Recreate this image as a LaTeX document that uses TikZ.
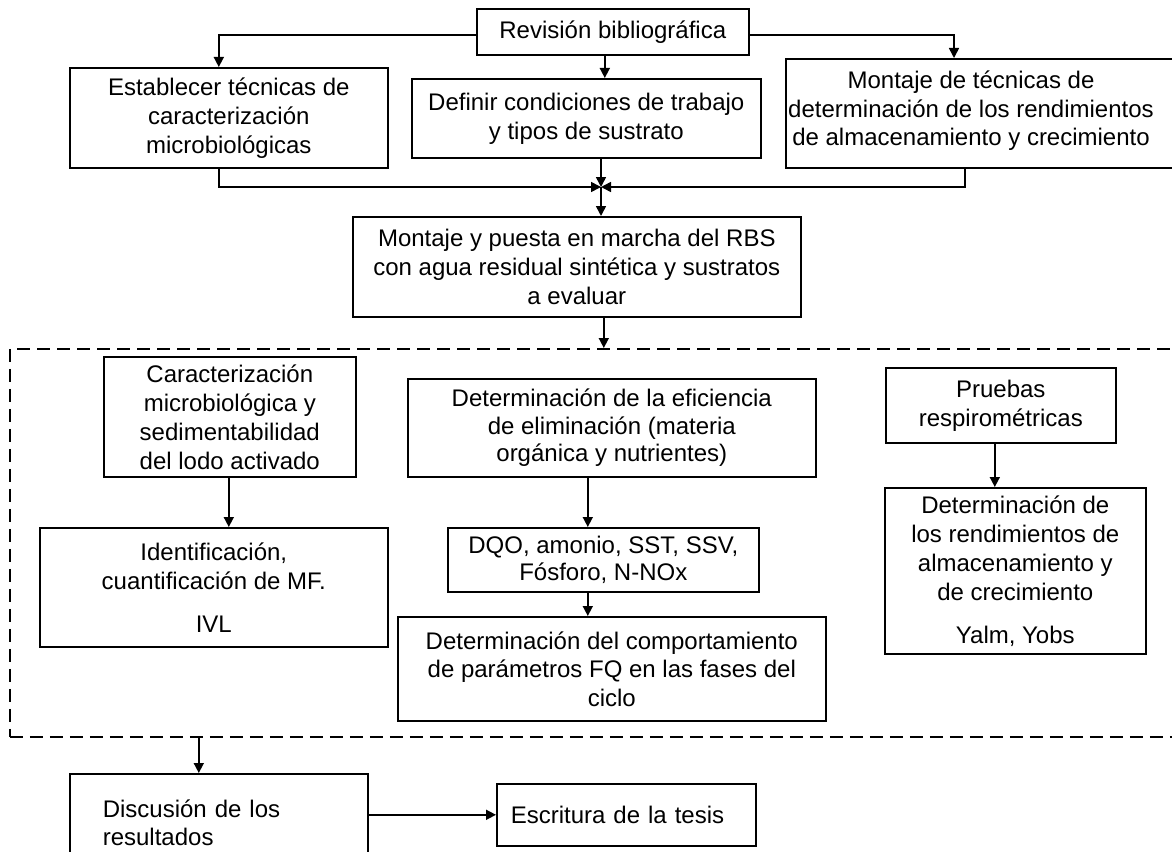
\documentclass[tikz,border=0pt]{standalone}
\usepackage{fontspec}
\setmainfont{Liberation Sans}
\usetikzlibrary{arrows.meta,calc}
\begin{document}
\begin{tikzpicture}[x=1pt,y=-1pt,
  box/.style={draw, line width=1.6pt, anchor=north west, inner sep=0pt,
    align=center, font=\fontsize{24}{29}\selectfont},
  txt/.style={inner sep=0pt, align=center, font=\fontsize{24}{28.5}\selectfont},
  arr/.style={line width=1.6pt, -{Triangle[length=10pt,width=10pt]}},
  ln/.style={line width=1.6pt},
  grpbox/.style={draw, line width=1.6pt, dash pattern=on 13pt off 7pt,
    anchor=north west, inner sep=0pt}]
\useasboundingbox (0,0) rectangle (1172,851);
\fill[white] (0,0) rectangle (1172,851);

% upper block
\node[box, minimum width=272pt, minimum height=46pt] (rev) at (476,8) {Revisión bibliográfica};
\node[box, minimum width=318pt, minimum height=100pt] (est) at (69,67)
  {Establecer técnicas de\\caracterización\\microbiológicas};
\node[box, minimum width=349pt, minimum height=79pt] (def) at (411,78)
  {Definir condiciones de trabajo\\y tipos de sustrato};
\node[box, minimum width=400pt, minimum height=109pt] (mon) at (785,58) {};
\node[txt] (monT) at (971,111)
  {Montaje de técnicas de\\determinación de los rendimientos\\de almacenamiento y crecimiento};

\coordinate (J) at (601,187);

\node[box, minimum width=448pt, minimum height=100pt] (rbs) at (352,216)
  {Montaje y puesta en marcha del RBS\\con agua residual sintética y sustratos\\a evaluar};

% experimental block
\node[grpbox, minimum width=1176pt, minimum height=388pt] (grp) at (9,348) {};

\node[box, minimum width=252pt, minimum height=120pt] (car) at (103,356)
  {Caracterización\\microbiológica y\\sedimentabilidad\\del lodo activado};
\node[box, minimum width=348pt, minimum height=119pt] (ide) at (39,527)
  {Identificación,\\cuantificación de MF.\\[14pt]IVL};
\node[box, minimum width=408pt, minimum height=98pt,
  font=\fontsize{24}{27.5}\selectfont] (efi) at (407,378)
  {Determinación de la eficiencia\\de eliminación (materia\\orgánica y nutrientes)};
\node[box, minimum width=311pt, minimum height=64pt,
  font=\fontsize{24}{27}\selectfont] (dqo) at (447,527)
  {DQO, amonio, SST, SSV,\\Fósforo, N-NOx};
\node[box, minimum width=428pt, minimum height=104pt,
  font=\fontsize{24}{28.5}\selectfont] (fq) at (397,616)
  {Determinación del comportamiento\\de parámetros FQ en las fases del\\ciclo};
\node[box, minimum width=230pt, minimum height=75pt] (pru) at (885,367)
  {Pruebas\\respirométricas};
\node[box, minimum width=261pt, minimum height=166pt] (ren) at (884,487)
  {Determinación de\\los rendimientos de\\almacenamiento y\\de crecimiento\\[14pt]Yalm, Yobs};

% closing block
\node[box, align=left, text width=232pt, inner xsep=33pt, minimum height=97pt,
  font=\fontsize{24}{28}\selectfont] (dis) at (69,773)
  {Discusión de los\\resultados};
\node[box, align=left, text width=231pt, inner xsep=14pt, minimum height=62pt] (esc) at (496,783)
  {Escritura de la tesis};

% connectors
\draw[arr] ([yshift=-3pt]rev.west) -| ([xshift=-10pt]est.north);
\draw[arr] ([xshift=-8pt]rev.south) -- ([xshift=-8pt]rev.south |- def.north);
\draw[arr] ([yshift=-3pt]rev.east) -| ($(mon.north west)+(169,0)$);

\draw[arr] ([xshift=-10pt]est.south) |- (J);
\draw[arr] ($(mon.south west)+(180,0)$) |- (J);
\draw[arr] (def.south -| J) -- (J);
\draw[arr] (J) -- (J |- rbs.north);

\draw[arr] ([xshift=27pt]rbs.south) -- ([xshift=27pt]rbs.south |- grp.north);

\draw[arr] ([xshift=-1pt]car.south) -- ([xshift=-1pt]car.south |- ide.north);
\draw[arr] ([xshift=-24pt]efi.south) -- ([xshift=-24pt]efi.south |- dqo.north);
\draw[arr] ([xshift=-15.5pt]dqo.south) -- ([xshift=-15.5pt]dqo.south |- fq.north);
\draw[arr] ([xshift=-6pt]pru.south) -- ([xshift=-6pt]pru.south |- ren.north);

\draw[arr] ([xshift=-20pt]dis.north |- grp.south) -- ([xshift=-20pt]dis.north);
\draw[arr] (dis.east |- esc.west) -- (esc.west);
\end{tikzpicture}
\end{document}
